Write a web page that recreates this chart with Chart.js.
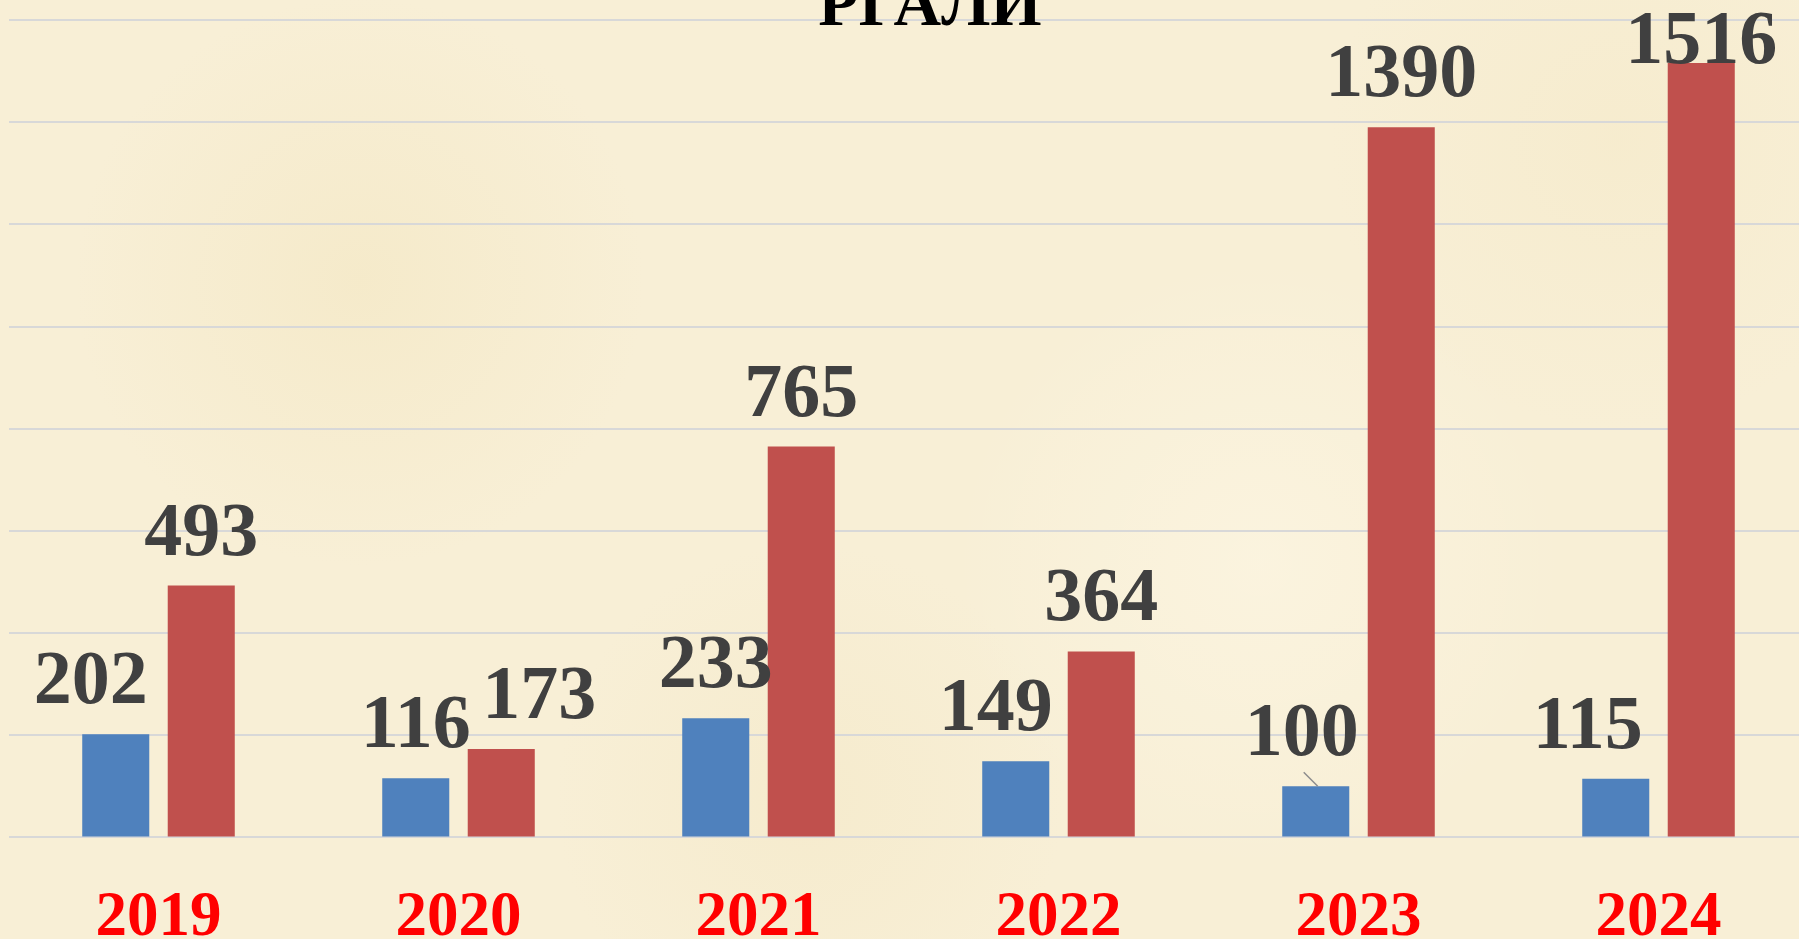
<!DOCTYPE html>
<html>
<head>
<meta charset="utf-8">
<script src="https://cdn.jsdelivr.net/npm/chart.js@4.4.1/dist/chart.umd.min.js"></script>
<style>
    html, body {
        margin: 0;
        padding: 0;
        width: 1799px;
        height: 939px;
        overflow: hidden;
        background-color: #f8efd6;
        background-image:
            radial-gradient(circle at 20% 30%, rgba(240, 225, 180, 0.35) 0, rgba(240, 225, 180, 0) 18%),
            radial-gradient(circle at 70% 60%, rgba(255, 250, 235, 0.4) 0, rgba(255, 250, 235, 0) 22%),
            radial-gradient(circle at 45% 85%, rgba(240, 226, 185, 0.3) 0, rgba(240, 226, 185, 0) 20%),
            radial-gradient(circle at 90% 15%, rgba(242, 228, 188, 0.3) 0, rgba(242, 228, 188, 0) 16%);
    }
    #wrap {
        position: absolute;
        left: 0;
        top: 0;
    }
</style>
</head>
<body>
<div id="wrap">
    <canvas id="chart" width="1860" height="993"></canvas>
</div>
<script>
const years = ["2019", "2020", "2021", "2022", "2023", "2024"];
const blueValues = [202, 116, 233, 149, 100, 115];
const redValues = [493, 173, 765, 364, 1390, 1516];
const titleText = "РГАЛИ";

// небольшие сдвиги подписей по горизонтали, как в исходной диаграмме
const blueLabelShift = [-25, 0, 0, -20, -14, -28];
const redLabelShift = [0, 38, 0, 0, 0, 0];

const serif = "'Liberation Serif', 'Times New Roman', serif";

// подписи над столбцами
const barLabels = {
    id: "barLabels",
    afterDatasetsDraw(chart, args, opts) {
        let ctx = chart.ctx;
        let area = chart.chartArea;
        ctx.save();
        ctx.font = "bold 76px " + serif;
        ctx.fillStyle = "#404040";
        ctx.textAlign = "center";
        ctx.textBaseline = "alphabetic";
        chart.data.datasets.forEach((ds, di) => {
            let meta = chart.getDatasetMeta(di);
            meta.data.forEach((bar, i) => {
                let shift = opts.shifts[di][i] || 0;
                let y = Math.max(bar.y - 31, area.top + 43);
                let x = bar.x + shift;
                if (opts.leaders.some((l) => l[0] === di && l[1] === i)) {
                    ctx.strokeStyle = "#8c8c8c";
                    ctx.lineWidth = 1.5;
                    ctx.beginPath();
                    ctx.moveTo(bar.x - 12, bar.y - 14);
                    ctx.lineTo(bar.x + 2, bar.y);
                    ctx.stroke();
                }
                ctx.fillText(String(ds.data[i]), x, y);
            });
        });
        ctx.restore();
    },
};

// заголовок, обрезанный верхним краем
const topTitle = {
    id: "topTitle",
    afterDraw(chart, args, opts) {
        let ctx = chart.ctx;
        ctx.save();
        ctx.font = "bold 66px " + serif;
        ctx.fillStyle = "#000000";
        ctx.textAlign = "center";
        ctx.textBaseline = "alphabetic";
        ctx.fillText(opts.text, chart.width / 2, chart.chartArea.top + 5);
        ctx.restore();
    },
};

let ctx = document.getElementById("chart").getContext("2d");

let data = {
    labels: years,
    datasets: [
        {
            label: "blue",
            backgroundColor: "#4f81bd",
            data: blueValues,
            categoryPercentage: 0.57,
            barPercentage: 0.784,
        },
        {
            label: "red",
            backgroundColor: "#c0504d",
            data: redValues,
            categoryPercentage: 0.57,
            barPercentage: 0.784,
        },
    ],
};

let options = {
    responsive: false,
    animation: false,
    layout: {
        padding: { left: 8.5, right: 51.5, top: 20, bottom: 0 },
    },
    plugins: {
        legend: { display: false },
        tooltip: { enabled: false },
        title: { display: false },
        barLabels: {
            shifts: [blueLabelShift, redLabelShift],
            leaders: [[0, 4]],
        },
        topTitle: { text: titleText },
    },
    scales: {
        x: {
            grid: { display: false },
            border: { display: false },
            ticks: {
                color: "#ff0000",
                padding: 36,
                font: { family: serif, size: 63, weight: "bold" },
            },
        },
        y: {
            display: true,
            min: 0,
            max: 1600,
            border: { display: false },
            grid: {
                color: "#d8d8d8",
                lineWidth: 2,
                drawTicks: false,
            },
            ticks: { display: false, stepSize: 200 },
        },
    },
};

let myChart = new Chart(ctx, {
    type: "bar",
    data: data,
    options: options,
    plugins: [barLabels, topTitle],
});
</script>
</body>
</html>
